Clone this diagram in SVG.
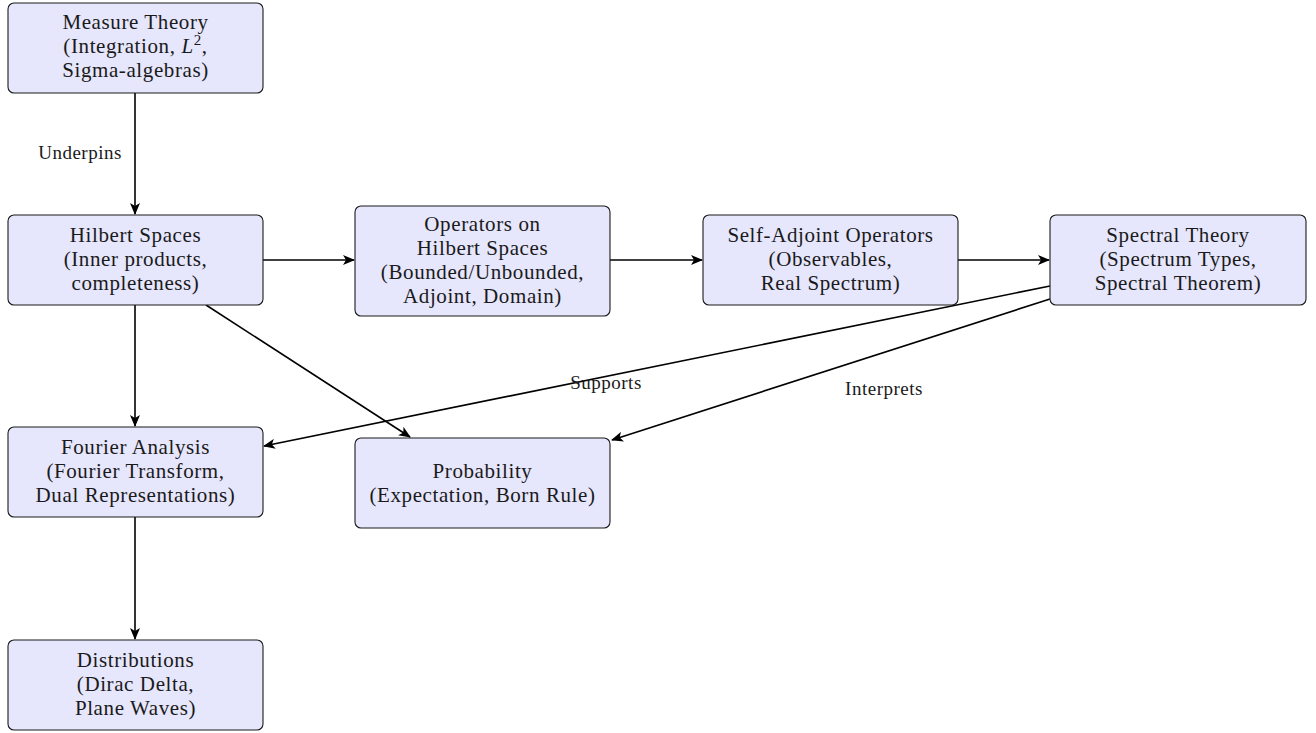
<svg xmlns="http://www.w3.org/2000/svg" width="1316" height="733" viewBox="0 0 1316 733">
<style>
.box{fill:#e6e6fc;stroke:#1a1a1a;stroke-width:1.1}
.t{font-family:"Liberation Serif","Times New Roman",serif;font-size:21px;letter-spacing:0.6px;fill:#1a1a1a;text-anchor:middle}
.lbl{font-family:"Liberation Serif","Times New Roman",serif;font-size:19px;letter-spacing:0.5px;fill:#1a1a1a;text-anchor:middle}
.e{fill:none;stroke:#000;stroke-width:1.6;marker-end:url(#ah)}
</style>
<defs>
<marker id="ah" viewBox="0 0 12 10" refX="11" refY="5" markerWidth="12" markerHeight="10" markerUnits="userSpaceOnUse" orient="auto">
<path d="M0,0 L12,5 L0,10 L3,5 Z" fill="#000"/>
</marker>
</defs>
<g id="edges">
<line class="e" x1="135" y1="93" x2="135" y2="214"/>
<line class="e" x1="263" y1="260" x2="354" y2="260"/>
<line class="e" x1="610" y1="260" x2="702" y2="260"/>
<line class="e" x1="958" y1="260" x2="1049" y2="260"/>
<line class="e" x1="135" y1="305" x2="135" y2="426"/>
<line class="e" x1="206" y1="305" x2="410" y2="437"/>
<line class="e" x1="1050" y1="286" x2="264" y2="446"/>
<line class="e" x1="1050" y1="299" x2="612" y2="440"/>
<line class="e" x1="135" y1="517" x2="135" y2="639"/>
<text class="lbl" x="80" y="159">Underpins</text>
<text class="lbl" x="606" y="389">Supports</text>
<text class="lbl" x="884" y="395">Interprets</text>
</g>
<g id="measure">
<rect class="box" x="8" y="3" width="255" height="90" rx="6"/>
<text class="t" x="135.5" y="29">Measure Theory</text>
<text class="t" x="135.5" y="53">(Integration, <tspan font-style="italic">L</tspan><tspan dy="-8" font-size="15">2</tspan><tspan dy="8">,</tspan></text>
<text class="t" x="135.5" y="77">Sigma-algebras)</text>
</g>
<g id="hilbert">
<rect class="box" x="8" y="215" width="255" height="90" rx="6"/>
<text class="t" x="135.5" y="242">Hilbert Spaces</text>
<text class="t" x="135.5" y="266">(Inner products,</text>
<text class="t" x="135.5" y="290">completeness)</text>
</g>
<g id="operators">
<rect class="box" x="355" y="206" width="255" height="110" rx="6"/>
<text class="t" x="482.5" y="231">Operators on</text>
<text class="t" x="482.5" y="255">Hilbert Spaces</text>
<text class="t" x="482.5" y="279">(Bounded/Unbounded,</text>
<text class="t" x="482.5" y="303">Adjoint, Domain)</text>
</g>
<g id="selfadjoint">
<rect class="box" x="703" y="215" width="255" height="90" rx="6"/>
<text class="t" x="830.5" y="242">Self-Adjoint Operators</text>
<text class="t" x="830.5" y="266">(Observables,</text>
<text class="t" x="830.5" y="290">Real Spectrum)</text>
</g>
<g id="spectral">
<rect class="box" x="1050" y="215" width="256" height="90" rx="6"/>
<text class="t" x="1178" y="242">Spectral Theory</text>
<text class="t" x="1178" y="266">(Spectrum Types,</text>
<text class="t" x="1178" y="290">Spectral Theorem)</text>
</g>
<g id="fourier">
<rect class="box" x="8" y="427" width="255" height="90" rx="6"/>
<text class="t" x="135.5" y="454">Fourier Analysis</text>
<text class="t" x="135.5" y="478">(Fourier Transform,</text>
<text class="t" x="135.5" y="502">Dual Representations)</text>
</g>
<g id="probability">
<rect class="box" x="355" y="438" width="255" height="90" rx="6"/>
<text class="t" x="482.5" y="478">Probability</text>
<text class="t" x="482.5" y="502">(Expectation, Born Rule)</text>
</g>
<g id="distributions">
<rect class="box" x="8" y="640" width="255" height="90" rx="6"/>
<text class="t" x="135.5" y="667">Distributions</text>
<text class="t" x="135.5" y="691">(Dirac Delta,</text>
<text class="t" x="135.5" y="715">Plane Waves)</text>
</g>
</svg>
